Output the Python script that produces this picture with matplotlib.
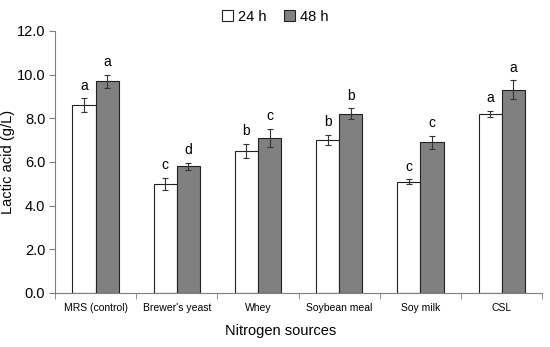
import numpy as np
import matplotlib
matplotlib.use("Agg")
import matplotlib.pyplot as plt
from matplotlib.ticker import FixedLocator, NullFormatter

plt.rcParams["font.family"] = ["Liberation Sans", "DejaVu Sans"]

# ── data ─────────────────────────────────────────────────────────────────────
sources = ["MRS (control)", "Brewer's yeast", "Whey", "Soybean meal", "Soy milk", "CSL"]
h24 = [8.6, 5.0, 6.5, 7.0, 5.1, 8.2]
h24_err = [0.32, 0.27, 0.32, 0.24, 0.10, 0.14]
h48 = [9.7, 5.8, 7.1, 8.2, 6.9, 9.3]
h48_err = [0.30, 0.15, 0.42, 0.25, 0.30, 0.43]
letters24 = ["a", "c", "b", "b", "c", "a"]
letters48 = ["a", "d", "c", "b", "c", "a"]

EDGE = "#222222"
GRAY = "#808080"
SPINE = "#7f7f7f"

fig = plt.figure(figsize=(5.5, 3.47), dpi=100)
ax = fig.add_axes([0.1, 0.156, 0.886, 0.755])

x = np.arange(len(sources))
w = 0.285
err_kw = dict(ecolor="#333333", elinewidth=0.8, capsize=2.2, capthick=0.8)
b1 = ax.bar(x - w / 2, h24, w, yerr=h24_err, color="white", edgecolor=EDGE,
            linewidth=0.8, label="24 h", error_kw=err_kw)
b2 = ax.bar(x + w / 2, h48, w, yerr=h48_err, color=GRAY, edgecolor=EDGE,
            linewidth=0.8, label="48 h", error_kw=err_kw)

for xi, v, e, t in zip(x - w / 2, h24, h24_err, letters24):
    ax.annotate(t, (xi, v + e), xytext=(0, 4), textcoords="offset points",
                ha="center", va="bottom", fontsize=10)
for xi, v, e, t in zip(x + w / 2, h48, h48_err, letters48):
    ax.annotate(t, (xi, v + e), xytext=(0, 4), textcoords="offset points",
                ha="center", va="bottom", fontsize=10)

ax.set_xlim(-0.5, len(sources) - 0.5)
ax.set_ylim(0, 12)
ax.set_yticks(np.arange(0, 12.1, 2))
ax.set_yticklabels([f"{v:.1f}" for v in np.arange(0, 12.1, 2)], fontsize=10.5)
ax.set_xticks(x)
ax.set_xticklabels(sources, fontsize=7.5)
ax.tick_params(axis="x", which="major", length=0, pad=7)
ax.xaxis.set_minor_locator(FixedLocator(np.arange(-0.5, len(sources), 1)))
ax.xaxis.set_minor_formatter(NullFormatter())
ax.tick_params(axis="x", which="minor", length=4, color=SPINE, direction="out")
ax.tick_params(axis="y", length=4, color=SPINE, direction="out", pad=3)

for s in ("top", "right"):
    ax.spines[s].set_visible(False)
for s in ("left", "bottom"):
    ax.spines[s].set_color(SPINE)
    ax.spines[s].set_linewidth(0.8)

ax.set_ylabel("Lactic acid (g/L)", fontsize=10.5)
ax.yaxis.set_label_coords(-0.083, 0.5)
ax.set_xlabel("Nitrogen sources", fontsize=10.5)
ax.xaxis.set_label_coords(0.464, -0.118)

fig.legend(handles=[b1, b2], loc="upper center", bbox_to_anchor=(0.5, 1.01),
           ncol=2, frameon=False, fontsize=10.5, handlelength=0.8, handleheight=0.8,
           handletextpad=0.3, columnspacing=1.2)

fig.savefig("out.png", dpi=100)
